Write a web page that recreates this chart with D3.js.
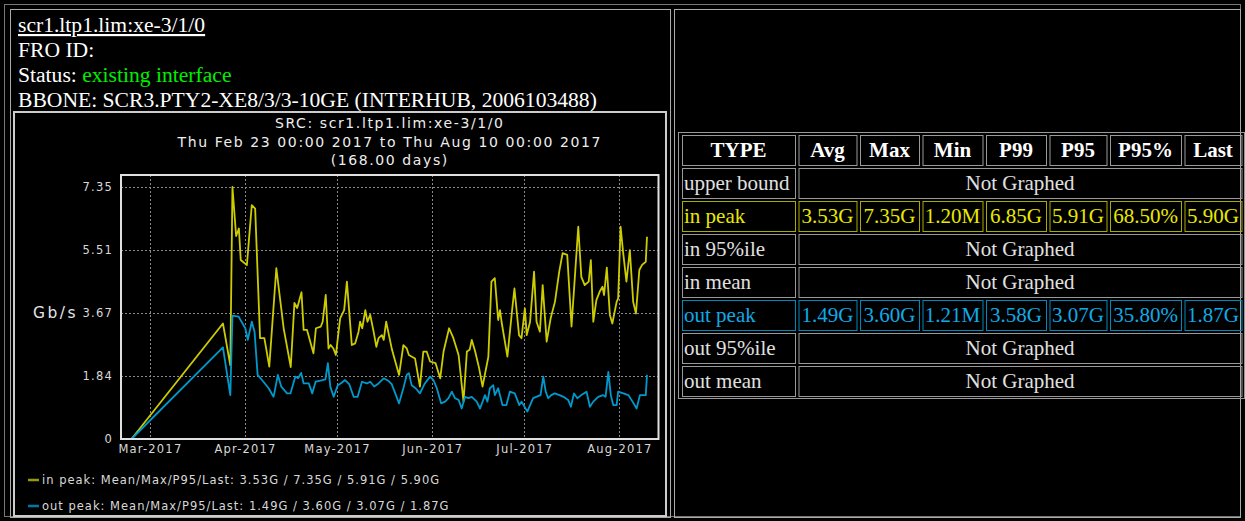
<!DOCTYPE html>
<html>
<head>
<meta charset="utf-8">
<script src="https://cdn.jsdelivr.net/npm/d3@7"></script>
<style>
  body { margin: 0; background: #000; }
  svg { display: block; }
</style>
</head>
<body>
<div id="page"></div>
<script>
// Interface info (left panel header)
const ifName = "scr1.ltp1.lim:xe-3/1/0";
const froId = "FRO ID:";
const statusLabel = "Status: ";
const statusValue = "existing interface";
const bbone = "BBONE: SCR3.PTY2-XE8/3/3-10GE (INTERHUB, 2006103488)";

// Graph title
const titleLines = [
  "SRC: scr1.ltp1.lim:xe-3/1/0",
  "Thu Feb 23 00:00 2017 to Thu Aug 10 00:00 2017",
  "(168.00 days)"
];

// Days since Thu Feb 23 2017, and peak rate in Gb/s
const inDays = [0, 29.8, 32.2, 32.9, 34.1, 35.0, 35.6, 37.6, 39.2, 40.3, 41.9, 43.3, 44.9, 47.2, 49.6, 51.9,
  53.1, 54.0, 55.4, 56.1, 57.2, 59.3, 60.1, 61.7, 62.3, 63.3, 64.2, 64.9, 65.8, 66.6, 68.0, 69.3, 70.2,
  71.8, 72.9, 74.0, 74.5, 75.2, 76.2, 76.9, 77.8, 78.9, 79.8, 80.5, 81.6, 82.2, 83.0, 83.9, 84.9, 87.2,
  88.6, 89.7, 90.4, 92.4, 94.0, 95.1, 96.2, 97.3, 99.1, 100.6, 101.7, 103.5, 104.9, 106.6, 108.2, 109.3,
  110.2, 110.9, 112.0, 113.3, 114.4, 116.3, 117.3, 118.4, 119.5, 120.1, 120.6, 122.5, 124.1, 124.8, 126.3,
  127.1, 128.2, 128.8, 129.9, 131.2, 132.0, 133.1, 134.0, 135.3, 136.6, 138.0, 139.4, 140.5, 142.0, 143.4,
  145.6, 146.6, 147.7, 149.0, 149.7, 150.5, 151.5, 152.6, 153.5, 154.0, 154.9, 155.9, 156.7, 158.1, 158.6,
  159.4, 160.2, 161.3, 162.4, 163.5, 164.4, 165.5, 166.4, 167.6, 168.0];
const inPeak = [0, 3.37, 2.15, 7.35, 5.92, 6.14, 5.22, 5.07, 6.82, 6.72, 2.94, 2.94, 2.11, 4.98, 3.22, 2.10,
  3.97, 3.82, 4.28, 3.18, 3.18, 2.50, 3.23, 3.28, 3.42, 4.20, 2.64, 2.74, 2.64, 2.45, 3.52, 3.76, 4.59,
  2.74, 2.79, 3.13, 3.42, 3.23, 3.76, 3.42, 3.62, 3.13, 2.69, 2.94, 3.03, 2.89, 3.42, 3.03, 2.60, 1.87,
  2.74, 2.64, 2.45, 2.35, 1.53, 2.55, 2.55, 2.26, 2.21, 1.77, 2.55, 3.23, 2.94, 2.45, 1.09, 2.55,
  2.60, 2.89, 2.55, 2.06, 1.53, 2.40, 4.59, 4.69, 3.47, 3.76, 3.42, 2.40, 3.81, 4.39, 3.03,
  2.94, 3.81, 3.03, 3.42, 4.88, 3.42, 3.13, 4.49, 2.84, 3.52, 4.00, 4.88, 5.42, 5.37, 3.28,
  6.19, 4.73, 4.49, 4.59, 5.22, 3.42, 4.05, 4.30, 4.44, 4.20, 5.00, 3.62, 3.37, 4.00, 4.10,
  6.19, 5.46, 4.59, 5.51, 4.00, 3.66, 4.93, 5.08, 5.17, 5.90];

const outDays = [0, 29.8, 32.2, 32.9, 34.9, 37.1, 37.9, 39.2, 40.1, 41.1, 43.0, 44.7, 46.3, 47.7, 48.8, 50.7,
  51.8, 53.4, 54.3, 55.3, 56.1, 57.8, 58.9, 60.0, 61.6, 63.2, 64.0, 64.8, 65.9, 67.2, 68.2, 69.6, 71.0,
  72.4, 73.7, 75.1, 76.7, 77.8, 79.1, 80.5, 82.2, 83.8, 84.8, 87.2, 88.6, 89.7, 90.4, 91.3, 92.6, 94.0,
  95.6, 97.3, 98.4, 99.5, 100.9, 102.2, 103.3, 104.4, 105.4, 106.6, 107.6, 108.7, 109.8, 110.9, 112.5,
  113.6, 115.2, 116.0, 116.8, 117.9, 118.4, 119.5, 120.9, 122.2, 123.3, 124.9, 126.4, 127.1, 129.0, 129.9,
  130.9, 133.3, 134.2, 135.0, 135.8, 136.8, 137.9, 139.5, 140.8, 142.3, 143.2, 144.2, 145.3, 146.6, 148.3,
  149.4, 150.5, 152.1, 153.7, 154.5, 155.4, 156.2, 157.0, 158.1, 158.6, 160.3, 161.9, 163.3, 164.6, 165.7,
  167.6, 168.0];
const outPeak = [0, 2.67, 1.28, 3.60, 3.57, 3.23, 2.89, 3.42, 3.13, 1.87, 1.67, 1.48, 1.23, 1.87, 1.53, 1.33,
  1.33, 1.82, 1.77, 1.93, 1.62, 1.62, 1.33, 1.67, 1.70, 1.74, 2.21, 1.52, 1.23, 1.57, 1.62, 1.72, 1.59,
  1.23, 1.23, 1.67, 1.62, 1.67, 1.53, 1.62, 1.77, 1.69, 1.60, 1.04, 1.48, 1.87, 1.92, 1.57, 1.48, 1.33,
  1.62, 1.82, 1.72, 1.48, 1.04, 1.09, 1.19, 1.38, 1.19, 1.14, 0.89, 1.23, 1.19, 1.23, 1.09,
  0.89, 1.28, 1.09, 1.48, 1.57, 1.28, 1.48, 0.99, 0.99, 1.38, 1.33, 0.99, 1.09, 0.80, 0.99,
  1.19, 1.28, 1.82, 1.38, 1.19, 1.28, 1.33, 1.28, 1.23, 1.14, 0.94, 1.33, 1.19, 1.28, 1.38,
  0.94, 1.09, 1.23, 1.28, 1.23, 1.96, 1.28, 0.99, 0.99, 1.38, 1.33, 1.28, 1.09, 0.89, 1.28,
  1.28, 1.87];

// Axis ticks
const yTicks = [0, 1.8375, 3.675, 5.5125, 7.35];
const xTicks = ["2017-03-01", "2017-04-01", "2017-05-01", "2017-06-01", "2017-07-01", "2017-08-01"];

// Legend
const legendLabels = [
  "in peak: Mean/Max/P95/Last: 3.53G / 7.35G / 5.91G / 5.90G",
  "out peak: Mean/Max/P95/Last: 1.49G / 3.60G / 3.07G / 1.87G"
];

// Stats table
const tableHeaders = ["TYPE", "Avg", "Max", "Min", "P99", "P95", "P95%", "Last"];
const rowTypes = ["upper bound", "in peak", "in 95%ile", "in mean", "out peak", "out 95%ile", "out mean"];
const inPeakStats = ["3.53G", "7.35G", "1.20M", "6.85G", "5.91G", "68.50%", "5.90G"];
const outPeakStats = ["1.49G", "3.60G", "1.21M", "3.58G", "3.07G", "35.80%", "1.87G"];

const W = 1245, H = 521;
const serif = "'Liberation Serif', 'Times New Roman', serif";
const sans = "'DejaVu Sans', sans-serif";
const yellow = "#cccc00", blue = "#0099cc";

const svg = d3.select("#page").append("svg")
  .attr("width", W)
  .attr("height", H)
  .style("background", "#000");

// Page frames
svg.append("rect").attr("x", 4.5).attr("y", 4.5).attr("width", 1236).attr("height", 512)
  .attr("fill", "none").attr("stroke", "#777");
svg.append("rect").attr("x", 10.5).attr("y", 9.5).attr("width", 660).attr("height", 508)
  .attr("fill", "none").attr("stroke", "#aaa");
svg.append("rect").attr("x", 674.5).attr("y", 9.5).attr("width", 566).attr("height", 508)
  .attr("fill", "none").attr("stroke", "#aaa");

// Header text
const head = svg.append("g").style("font-family", serif).style("font-size", "21.6px").attr("fill", "#fff");
head.append("text").attr("x", 18).attr("y", 32).text(ifName).style("text-decoration", "underline");
head.append("text").attr("x", 18).attr("y", 57).text(froId);
const st = head.append("text").attr("x", 18).attr("y", 82);
st.append("tspan").text(statusLabel);
st.append("tspan").attr("fill", "#00ee00").text(statusValue);
head.append("text").attr("x", 18).attr("y", 107).text(bbone);

// Graph image frame
svg.append("rect").attr("x", 14).attr("y", 112).attr("width", 652).attr("height", 404)
  .attr("fill", "#000").attr("stroke", "#ccc").attr("stroke-width", 2);

// Plot area
const plot = { left: 121, right: 658.5, top: 175, bottom: 439 };
const t0 = Date.UTC(2017, 1, 23);
const toDate = d => new Date(t0 + d * 864e5);

const x = d3.scaleUtc()
  .domain([toDate(0), toDate(168)])
  .range([plot.left + 10.5, plot.right - 11.5]);
const y = d3.scaleLinear()
  .domain([0, 7.35])
  .range([plot.bottom, 187]);

// Title
svg.append("g").selectAll("text").data(titleLines).enter().append("text")
  .attr("x", (plot.left + plot.right) / 2)
  .attr("y", (d, i) => 128 + i * 18.5)
  .attr("text-anchor", "middle")
  .style("font-family", sans).style("font-size", "14px").style("letter-spacing", "1.6px")
  .attr("fill", "#eee")
  .text(d => d);

// Grid
const grid = svg.append("g").attr("stroke", "#8a8a8a").attr("stroke-dasharray", "2,2").attr("stroke-width", 1);
grid.selectAll("line.h").data(yTicks.slice(1)).enter().append("line")
  .attr("x1", plot.left).attr("x2", plot.right)
  .attr("y1", d => Math.round(y(d)) + 0.5).attr("y2", d => Math.round(y(d)) + 0.5);
grid.selectAll("line.v").data(xTicks).enter().append("line")
  .attr("x1", d => Math.round(x(new Date(d))) + 0.5).attr("x2", d => Math.round(x(new Date(d))) + 0.5)
  .attr("y1", plot.top).attr("y2", plot.bottom);

// Axes
const yAxis = svg.append("g")
  .attr("transform", "translate(" + plot.left + ",0)")
  .call(d3.axisLeft(y).tickValues(yTicks).tickSize(0).tickPadding(8)
    .tickFormat(d => d === 0 ? "0" : d.toFixed(2)));
const xAxis = svg.append("g")
  .attr("transform", "translate(0," + plot.bottom + ")")
  .call(d3.axisBottom(x).tickValues(xTicks.map(d => new Date(d))).tickSize(0).tickPadding(6)
    .tickFormat(d3.utcFormat("%b-%Y")));
[yAxis, xAxis].forEach(a => {
  a.select(".domain").remove();
  a.selectAll("text")
    .attr("fill", "#d8d8d8")
    .style("font-family", sans).style("font-size", "11.5px").style("letter-spacing", "1.2px");
});

svg.append("text")
  .attr("x", 33).attr("y", y(3.675) + 5)
  .style("font-family", sans).style("font-size", "15.5px").style("letter-spacing", "2.5px")
  .attr("fill", "#e6e6e6")
  .text("Gb/s");

// Lines
const line = d3.line()
  .x(d => x(toDate(d[0])))
  .y(d => y(d[1]));

svg.append("path")
  .datum(d3.zip(inDays, inPeak))
  .attr("fill", "none").attr("stroke", yellow).attr("stroke-width", 1.8).attr("stroke-linejoin", "round")
  .attr("d", line);
svg.append("path")
  .datum(d3.zip(outDays, outPeak))
  .attr("fill", "none").attr("stroke", blue).attr("stroke-width", 1.8).attr("stroke-linejoin", "round")
  .attr("d", line);

// Plot frame
svg.append("rect")
  .attr("x", plot.left).attr("y", plot.top)
  .attr("width", plot.right - plot.left).attr("height", plot.bottom - plot.top)
  .attr("fill", "none").attr("stroke", "#e0e0e0").attr("stroke-width", 2);

// Legend
const legend = svg.append("g").selectAll("g").data(legendLabels).enter().append("g")
  .attr("transform", (d, i) => "translate(28," + (480 + i * 26) + ")");
legend.append("line")
  .attr("x1", 0).attr("x2", 11).attr("y1", 0).attr("y2", 0)
  .attr("stroke", (d, i) => i === 0 ? "#999900" : "#0077aa").attr("stroke-width", 2.5);
legend.append("text")
  .attr("x", 14).attr("y", 4)
  .style("font-family", sans).style("font-size", "11.5px").style("letter-spacing", "1px")
  .attr("fill", "#d8d8d8")
  .text(d => d);

// Stats table
const colWidths = [113, 58, 59, 60, 60, 57, 71, 57];
const colGap = 3.5;
const colX = colWidths.map((w, i) => 682 + d3.sum(colWidths.slice(0, i)) + i * colGap);
const rowTop = i => 135 + i * 33;
const rowH = 30;

svg.append("rect").attr("x", 678.5).attr("y", 132.5).attr("width", 566).attr("height", 266)
  .attr("fill", "none").attr("stroke", "#999");

const table = svg.append("g").style("font-family", serif).style("font-size", "21px");

// header row
const hdr = table.selectAll("g.hdr").data(tableHeaders).enter().append("g");
hdr.append("rect")
  .attr("x", (d, i) => colX[i] + 0.5).attr("y", rowTop(0) + 0.5)
  .attr("width", (d, i) => colWidths[i]).attr("height", rowH)
  .attr("fill", "none").attr("stroke", "#999");
hdr.append("text")
  .attr("x", (d, i) => colX[i] + colWidths[i] / 2).attr("y", rowTop(0) + 22)
  .attr("text-anchor", "middle").attr("fill", "#fff").style("font-weight", "bold")
  .text(d => d);

// body rows
rowTypes.forEach((type, r) => {
  const top = rowTop(r + 1);
  const stats = type === "in peak" ? inPeakStats : type === "out peak" ? outPeakStats : null;
  const col = type === "in peak" ? "#e8e800" : type === "out peak" ? "#10aae6" : "#e0e0e0";
  const border = type === "in peak" ? "#aaaa00" : type === "out peak" ? "#0088bb" : "#999";
  const g = table.append("g");
  g.append("rect")
    .attr("x", colX[0] + 0.5).attr("y", top + 0.5).attr("width", colWidths[0]).attr("height", rowH)
    .attr("fill", "none").attr("stroke", border);
  g.append("text").attr("x", colX[0] + 2).attr("y", top + 22).attr("fill", col).text(type);
  if (stats) {
    g.selectAll("rect.s").data(stats).enter().append("rect")
      .attr("x", (d, i) => colX[i + 1] + 0.5).attr("y", top + 0.5)
      .attr("width", (d, i) => colWidths[i + 1]).attr("height", rowH)
      .attr("fill", "none").attr("stroke", border);
    g.selectAll("text.s").data(stats).enter().append("text")
      .attr("x", (d, i) => colX[i + 1] + colWidths[i + 1] / 2).attr("y", top + 22)
      .attr("text-anchor", "middle").attr("fill", col)
      .text(d => d);
  } else {
    const x0 = colX[1], x1 = colX[7] + colWidths[7];
    g.append("rect")
      .attr("x", x0 + 0.5).attr("y", top + 0.5).attr("width", x1 - x0).attr("height", rowH)
      .attr("fill", "none").attr("stroke", border);
    g.append("text")
      .attr("x", (x0 + x1) / 2).attr("y", top + 22)
      .attr("text-anchor", "middle").attr("fill", col)
      .text("Not Graphed");
  }
});
</script>
</body>
</html>
